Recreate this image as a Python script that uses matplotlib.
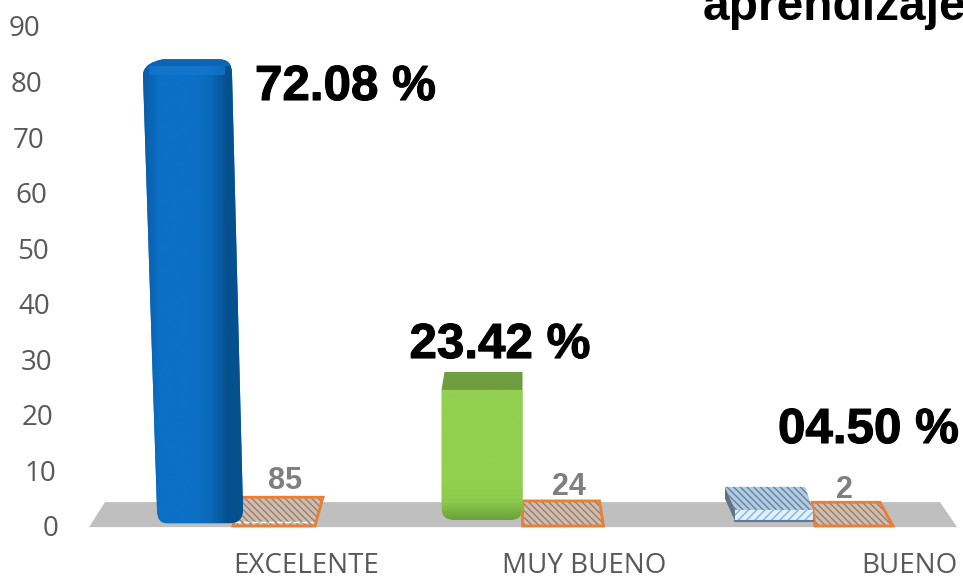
import numpy as np
import matplotlib
matplotlib.use('Agg')
import matplotlib.pyplot as plt
from matplotlib.patches import Polygon, PathPatch
from matplotlib.path import Path
from matplotlib.colors import LinearSegmentedColormap
from matplotlib.transforms import ScaledTranslation
import matplotlib.patheffects as pe

categories = ['EXCELENTE', 'MUY BUENO', 'BUENO']
main_values = [85, 24, 2]
count_values = [85, 24, 2]
percent_labels = ['72.08 %', '23.42 %', '04.50 %']
y_ticks = [0, 10, 20, 30, 40, 50, 60, 70, 80, 90]
title_text = 'aprendizaje'

# px per unit, used to place the 3d looking bits
XS = 289.5
YS = 500 / 90

plt.rcParams['hatch.linewidth'] = 1.0
fig = plt.figure(figsize=(9.63, 5.76), dpi=100)
ax = fig.add_axes([60 / 963, 50 / 576, 903 / 963, 500 / 576])
for s in ax.spines.values():
    s.set_visible(False)


def pts(cat, val, offs):
    # offs are (dx px, dy px) from category position and value height
    return [(cat + dx / XS, val + dy / YS) for dx, dy in offs]


def gradient(patch, colors, horizontal, z):
    cmap = LinearSegmentedColormap.from_list('g', colors)
    g = np.linspace(0, 1, 256)
    g = g.reshape(1, -1) if horizontal else g.reshape(-1, 1)
    ext = patch.get_path().get_extents()
    im = ax.imshow(g, cmap=cmap, extent=[ext.x0, ext.x1, ext.y0, ext.y1], origin='lower',
                   aspect='auto', zorder=z, clip_on=True)
    im.set_clip_path(patch)


# floor
floor = Polygon([(-144 / XS, -0.2), (-128 / XS, 4.3), (2 + 128 / XS, 4.3), (2 + 145 / XS, -0.2)],
                fc='#bfbfbf', ec='none', zorder=1, clip_on=False)
ax.add_patch(floor)

# flat orange series
orange_shape = [[(0, 0), (10, 1), (90, 1), (82, 0)],
                [(0, 0), (0, 1), (77, 1), (81, 0)],
                [(3, 0), (0, 1), (68, 1), (81, 0)]]
label_off = [(52, 1), (46, -1), (32, -3)]
for i, v in enumerate(count_values):
    h = 4.25 + 0.011 * v
    s = orange_shape[i]
    poly = [(i + dx / XS, h * top) for dx, top in s]
    ax.add_patch(Polygon(poly, fc='#c8bfb6', ec='#a97a5c', hatch='\\\\\\\\\\', lw=0, zorder=2, clip_on=False))
    ax.add_patch(Polygon(poly, fc='none', ec='#ed7d31', lw=2, zorder=2.5, clip_on=False))
    ax.annotate(str(v), (i, h), xytext=label_off[i], textcoords='offset pixels',
                ha='center', va='bottom', fontsize=22, fontweight='bold', color='#7f7f7f',
                family='Liberation Sans')
ax.plot([2 / XS, 80 / XS], [0.7, 0.7], color='white', lw=1, ls=(0, (4, 2)), zorder=2.6)

# blue rounded bar
v = main_values[0]
top = v - 1
verts = [(-90, -16), (-90, -4), (-70, 0), (-14, 0), (-1, 0), (-1, -14),
         (10, -450), (10, -464), (-4, -464), (-66, -464), (-76, -464), (-76, -450), (-90, -16)]
codes = [Path.MOVETO, Path.CURVE3, Path.CURVE3, Path.LINETO, Path.CURVE3, Path.CURVE3,
         Path.LINETO, Path.CURVE3, Path.CURVE3, Path.LINETO, Path.CURVE3, Path.CURVE3, Path.CLOSEPOLY]
blue = PathPatch(Path(pts(0, top, verts), codes), fc='#0a6cc0', ec='none', zorder=3)
ax.add_patch(blue)
gradient(blue, ['#0a5ca8', '#0b70c6', '#0b70c6', '#0b70c6', '#0a6ab9', '#06508e', '#05528f'], True, 3)
# softer top rim of the blue bar, kept inside the bar shape
rim = ax.fill_between([-92 / XS, 2 / XS], top - 7 / YS, top, color='#0a66b4', lw=0, zorder=3.2)
rim.set_clip_path(blue)
glow = ax.fill_between([-84 / XS, -8 / XS], top - 16 / YS, top - 7 / YS, color='#1478cf', alpha=0.7, lw=0, zorder=3.2)
glow.set_clip_path(blue)

# green box
v = main_values[1]
ax.add_patch(Polygon(pts(1, v, [(-81, 2.7), (-78, 20.7), (0, 20.7), (0, 2.7)]), fc='#6f9c3f', ec='none', zorder=3))
verts = [(-81, 2.7), (-81, -115), (-81, -127.3), (-68, -127.3), (-12, -127.3), (0, -127.3), (0, -115), (0, 2.7), (-81, 2.7)]
codes = [Path.MOVETO, Path.LINETO, Path.CURVE3, Path.CURVE3, Path.LINETO, Path.CURVE3, Path.CURVE3, Path.LINETO, Path.CLOSEPOLY]
green = PathPatch(Path(pts(1, v, verts), codes), fc='#92d050', ec='none', zorder=3)
ax.add_patch(green)
gradient(green, ['#6aa03a', '#8ccb4c', '#92d050', '#92d050', '#92d050', '#92d050', '#92d050', '#92d050'], False, 3)

# small hatched box
v = main_values[2]
ax.add_patch(Polygon(pts(2, v, [(-87, 28), (-7, 28), (1, 5), (-77, 5)]), fc='#b4cade', ec='#5f84a8',
                     hatch='\\\\\\\\\\', lw=0, zorder=3))
ax.add_patch(Polygon(pts(2, v, [(-77, 5), (1, 5), (1, -5), (-77, -5)]), fc='#e3f0fa', ec='#7fb4e0',
                     hatch='////', lw=0, zorder=3))
ax.add_patch(Polygon(pts(2, v, [(-87, 28), (-77, 5), (-77, -6), (-87, 16)]), fc='#5f7286', ec='none', zorder=3))
ax.plot([2 - 77 / XS, 2 + 1 / XS], [v - 6 / YS, v - 6 / YS], color='#5b7a99', lw=1.5, zorder=3.1)

# percent labels
pct_off = [(22, 426), (-113, 168), (-34, 83)]
for i, t in enumerate(percent_labels):
    ax.annotate(t, (i, 0), xytext=(pct_off[i][0], pct_off[i][1]), textcoords='offset pixels',
                ha='left', va='baseline', fontsize=35.5, fontweight='bold', color='black',
                family='Liberation Sans', annotation_clip=False, zorder=5,
                path_effects=[pe.withStroke(linewidth=0.8, foreground='black')])

# cut off title in top right corner, the reference crops it the same way
fig.text(703 / 963, 1 - 20 / 576, title_text, fontsize=34.5, fontweight='bold', family='Liberation Sans',
         ha='left', va='baseline', color='black')

ax.set_yticks(y_ticks)
ax.set_yticklabels([str(t) for t in y_ticks], fontsize=20, color='#595959', family='Open Sans')
ax.set_xticks(range(3))
ax.set_xticklabels(categories, fontsize=20, color='#595959', family='Open Sans')
ax.tick_params(length=0, pad=0)
ax.tick_params(axis='x', pad=19)

y_right = [58, 56, 53, 52, 50, 49, 47, 44, 42, 40]
for lab, r in zip(ax.get_yticklabels(), y_right):
    lab.set_transform(lab.get_transform() + ScaledTranslation((r - 60) / 100, 0, fig.dpi_scale_trans))
for lab, dx in zip(ax.get_xticklabels(), [73, 62, 97]):
    lab.set_transform(lab.get_transform() + ScaledTranslation(dx / 100, 0, fig.dpi_scale_trans))

ax.set_xlim(-173 / XS, 730 / XS)
ax.set_ylim(0, 90)
fig.savefig('out.png', dpi=100)
